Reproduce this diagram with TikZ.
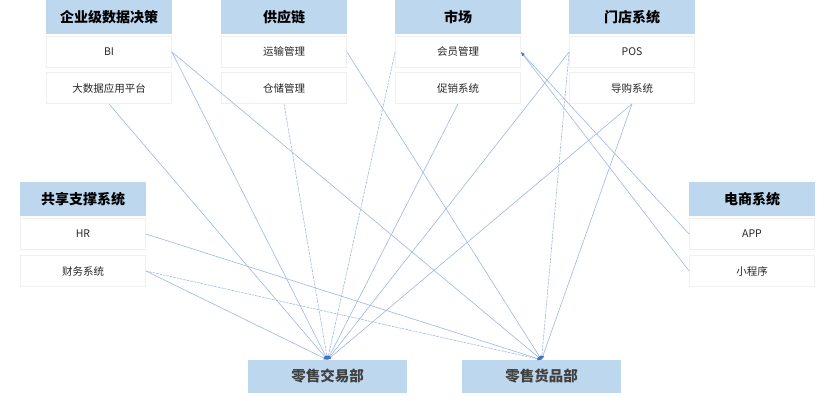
\documentclass[tikz,border=0pt]{standalone}
\usepackage{fontspec}
\setmainfont{Noto Sans CJK SC}
\usetikzlibrary{arrows.meta}
\definecolor{headblue}{HTML}{BDD7EE}
\definecolor{linkblue}{HTML}{9DB5E6}
\definecolor{tipblue}{HTML}{4472C4}

\begin{document}
\begin{tikzpicture}[x=1pt,y=-1pt,
    head/.style={fill=headblue,minimum width=126pt,minimum height=34pt,inner sep=0pt,
        font=\bfseries\fontsize{14}{16}\selectfont},
    item/.style={fill=white,draw=black!6,line width=0.8pt,minimum width=125pt,minimum height=31pt,
        inner sep=0pt,text=black!85,font=\fontsize{10.5}{12}\selectfont},
    dept/.style={head,minimum width=159pt,minimum height=33pt,text=black!75,
        font=\bfseries\fontsize{14.5}{16}\selectfont},
    link/.style={linkblue,line width=0.6pt,-{Latex[length=4pt,width=3pt,color=tipblue]}},
    dlink/.style={link,dash pattern=on 2.5pt off 1pt}]
    \useasboundingbox (0,0) rectangle (835,400);

    %top groups
    \node[head] (data) at (109,17) {企业级数据决策};
    \node[item] (bi) at (109,52) {BI};
    \node[item] (bigdata) at (109,88) {大数据应用平台};

    \node[head] (supply) at (284,17) {供应链};
    \node[item] (transport) at (284,52) {运输管理};
    \node[item] (storage) at (284,88) {仓储管理};

    \node[head] (market) at (458,17) {市场};
    \node[item] (member) at (458,52) {会员管理};
    \node[item] (promo) at (458,88) {促销系统};

    \node[head] (store) at (632,17) {门店系统};
    \node[item] (pos) at (632,52) {POS};
    \node[item] (guide) at (632,88) {导购系统};

    %side groups
    \node[head] (shared) at (83,199) {共享支撑系统};
    \node[item] (hr) at (83,234) {HR};
    \node[item] (finance) at (83,271) {财务系统};

    \node[head] (ecom) at (752,199) {电商系统};
    \node[item] (app) at (752,234) {APP};
    \node[item] (mini) at (752,271) {小程序};

    %departments
    \node[dept] (trade) at (327.5,376.5) {零售交易部};
    \node[dept] (goods) at (541.5,376.5) {零售货品部};

    %links to trade
    \draw[link] (bi.east) -- (trade.north);
    \draw[link] (bigdata.south) -- (trade.north);
    \draw[dlink] (storage.south) -- (trade.north);
    \draw[dlink] (member.west) -- (trade.north);
    \draw[link] (promo.south) -- (trade.north);
    \draw[link] (pos.west) -- (trade.north);
    \draw[link] (guide.south) -- (trade.north);
    \draw[link] (finance.east) -- (trade.north);

    %links to goods
    \draw[link] (bi.east) -- (goods.north);
    \draw[link] (transport.east) -- (goods.north);
    \draw[dlink] (pos.west) -- (goods.north);
    \draw[link] (guide.south) -- (goods.north);
    \draw[link] (hr.east) -- (goods.north);
    \draw[dlink] (finance.east) -- (goods.north);

    %e-commerce to member
    \draw[link] (app.west) -- (member.east);
    \draw[link] (mini.west) -- (member.east);
\end{tikzpicture}
\end{document}
